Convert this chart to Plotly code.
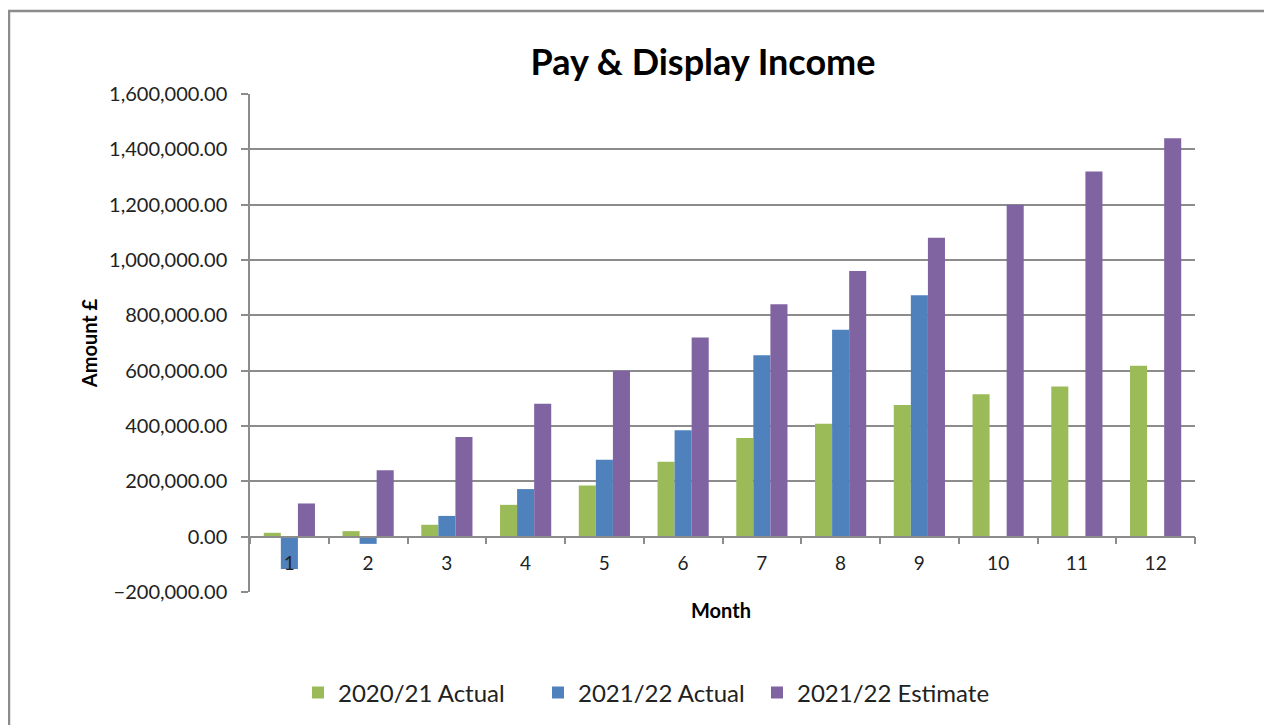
import plotly.graph_objects as go

months = [str(m) for m in range(1, 13)]
actual_2020_21 = [14000, 20000, 43000, 115000, 185000, 271000, 357000, 408000, 476000, 515000, 543000, 618000]
actual_2021_22 = [-117000, -26000, 75000, 172000, 278000, 385000, 656000, 748000, 873000, None, None, None]
estimate_2021_22 = [120000, 240000, 360000, 480000, 600000, 720000, 840000, 960000, 1080000, 1200000, 1320000, 1440000]
series_names = ["2020/21 Actual", "2021/22 Actual", "2021/22 Estimate"]
colors = ["#9bbb59", "#4f81bd", "#8064a2"]
y_ticks = list(range(-200000, 1600001, 200000))

FONT = "Lato, Calibri, sans-serif"
OFF = 8  # page body margin
L, R, T, B = 250 - OFF, 1195 - OFF, 94 - OFF, 592 - OFF
W, H = 1272, 725

def px_x(p):
    return (p - OFF - L) / (R - L)

def px_y(p):
    return (B - (p - OFF)) / (B - T)

legend_ids = ["legend", "legend2", "legend3"]
legend_square_px = [313, 553, 772]

fig = go.Figure()
for name, vals, col, lid in zip(series_names, [actual_2020_21, actual_2021_22, estimate_2021_22], colors, legend_ids):
    fig.add_trace(go.Bar(x=months, y=vals, name=name, legend=lid,
                         marker=dict(color=col, line=dict(width=0))))

legend_common = dict(orientation="h", xanchor="left", yanchor="middle", y=px_y(693),
                     font=dict(size=24, family=FONT, color="#222222"), itemwidth=30,
                     bgcolor="rgba(0,0,0,0)")

fig.update_layout(
    width=W, height=H,
    margin=dict(l=L, r=W - R, t=T, b=H - B),
    paper_bgcolor="white", plot_bgcolor="white",
    barmode="group", bargap=0.35, bargroupgap=0,
    font=dict(family=FONT, color="#222222"),
    title=dict(text="<b>Pay &amp; Display Income</b>", font=dict(size=36, family=FONT, color="#000000"),
               xref="paper", x=px_x(703), xanchor="center", yref="container", y=1 - (62 - OFF) / H, yanchor="middle"),
    xaxis=dict(type="category", anchor="free", position=200000 / 1800000,
               showline=True, linecolor="#8c8c8c", linewidth=1.5,
               ticks="outside", tickson="boundaries", ticklen=7, tickcolor="#8c8c8c", tickwidth=1.5,
               ticklabelstandoff=10,
               tickfont=dict(size=19, family=FONT, color="#222222"), showgrid=False),
    yaxis=dict(range=[-200000, 1600000], tickvals=y_ticks, tickformat=",.2f",
               showline=True, linecolor="#8c8c8c", linewidth=1.5,
               ticks="outside", ticklen=7, tickcolor="#8c8c8c", tickwidth=1.5,
               ticklabelstandoff=10,
               showgrid=True, gridcolor="#8c8c8c", gridwidth=1.5, zeroline=False,
               tickfont=dict(size=20, family=FONT, color="#222222"),
               title=dict(text="<b>Amount £</b>", font=dict(size=20, family=FONT, color="#000000"), standoff=6)),
    legend=dict(x=px_x(legend_square_px[0] - 15), **legend_common),
    legend2=dict(x=px_x(legend_square_px[1] - 15), **legend_common),
    legend3=dict(x=px_x(legend_square_px[2] - 15), **legend_common),
    showlegend=True,
)

fig.add_annotation(text="<b>Month</b>", xref="paper", yref="paper", x=px_x(721), y=px_y(610),
                   yanchor="middle", xanchor="center",
                   showarrow=False, font=dict(size=20, family=FONT, color="#000000"))

# chart frame
fig.add_shape(type="rect", xref="paper", yref="paper",
              x0=px_x(9), x1=px_x(1300), y0=px_y(760), y1=px_y(11),
              line=dict(color="#8c8c8c", width=2.5), layer="below")

fig.write_html("out.html")
